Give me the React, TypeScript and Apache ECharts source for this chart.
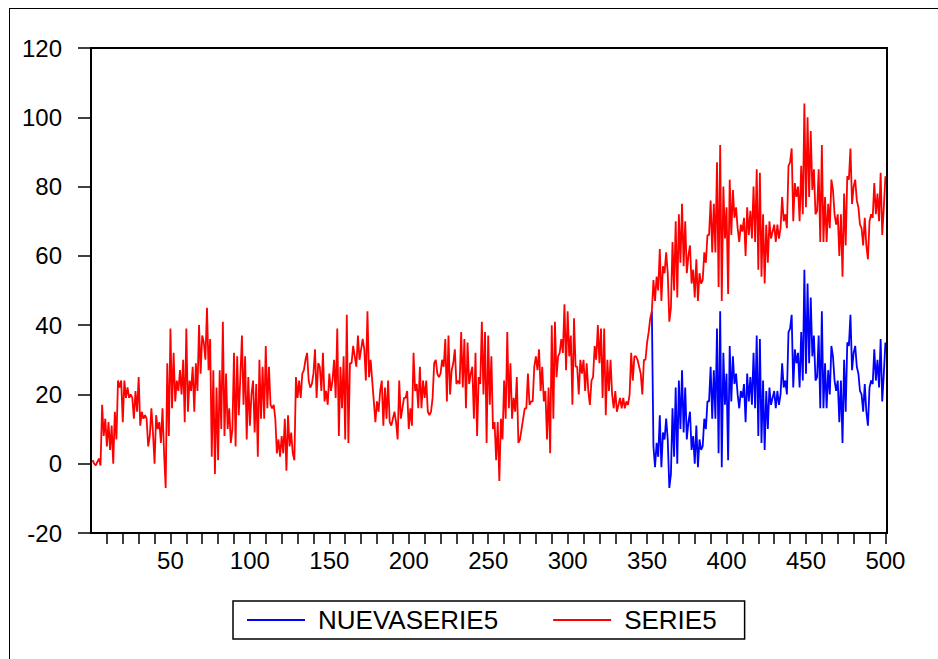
import React, { useEffect, useRef } from "react";
import * as echarts from "echarts";

// SERIE5: observations 1..500
const serie5: number[] = [
  // 1-60
  1, 0, -0.5, 0.5, 1.5, -0.5, 17, 8, 13, 5,
  12, 4, 11, 0, 15, 7, 24, 22, 24, 12,
  24, 19, 22, 19, 20, 19, 13, 21, 15, 25,
  11, 15, 13, 14, 13, 5, 8, 16, 9, 0,
  14, 10, 12, 6, 16, 3, -7, 29, 8, 39,
  16, 32, 18, 24, 21, 27, 20, 30, 12, 39,
  // 61-121
  15, 24, 21, 28, 15, 29, 21, 40, 26, 37,
  35, 30, 45, 27, 36, 2, 27, -3, 22, 1,
  27, 10, 41, 8, 26, 10, 16, 6, 10, 32,
  5, 31, 14, 25, 37, 17, 31, 7, 25, 11,
  20, 24, 9, 23, 2, 30, 13, 28, 13, 34,
  16, 28, 17, 16, 17, 13, 3, 7, 2, 8,
  3,
  // 122-180
  13, -2, 14, 5, 9, 3, 1, 25, 19, 24,
  19, 26, 27, 30, 32, 24, 22, 23, 26, 33,
  19, 29, 28, 21, 32, 18, 21, 17, 26, 21,
  24, 30, 19, 39, 8, 28, 16, 31, 7, 43,
  6, 29, 29, 34, 31, 28, 37, 30, 33, 36,
  33, 24, 44, 25, 30, 24, 18, 12, 18,
  // 181-244
  15, 21, 24, 11, 22, 13, 24, 12, 11, 13,
  15, 12, 7, 24, 13, 16, 19, 19, 21, 10,
  16, 11, 32, 21, 23, 16, 28, 16, 24, 19,
  24, 15, 14, 15, 19, 29, 30, 26, 25, 26,
  30, 28, 36, 18, 37, 20, 27, 29, 33, 23,
  24, 23, 38, 22, 36, 16, 35, 23, 26, 28,
  13, 32, 8, 25,
  // 245-305
  23, 41, 20, 38, 6, 37, 17, 31, 10, 12,
  1, 12, -5, 13, 7, 24, 13, 38, 16, 29,
  13, 19, 15, 25, 6, 7, 10, 13, 16, 16,
  26, 17, 18, 18, 28, 31, 27, 33, 21, 28,
  18, 21, 7, 22, 3, 40, 13, 41, 25, 31,
  32, 36, 32, 46, 27, 44, 31, 37, 17, 42,
  28,
  // 306-353
  28, 20, 30, 26, 30, 21, 29, 21, 17, 24,
  25, 34, 30, 40, 29, 39, 19, 39, 14, 30,
  21, 30, 20, 16, 21, 15, 17, 19, 16, 19,
  16, 18, 17, 20, 32, 24, 31, 31, 30, 28,
  26, 20, 30, 30, 35, 38, 42, 44,
  // 354-364
  53, 47, 54, 50, 62, 47, 57, 55, 61, 55, 41,
  // 365-434
  45, 64, 50, 70, 48, 72, 58, 75, 57, 70,
  55, 60, 63, 52, 56, 48, 59, 47, 55, 52,
  53, 61, 58, 66, 66, 76, 61, 75, 61, 87,
  51, 92, 47, 80, 65, 74, 49, 82, 66, 79,
  71, 74, 68, 64, 69, 67, 71, 60, 74, 66,
  73, 65, 80, 64, 85, 56, 84, 54, 72, 52,
  69, 58, 70, 65, 67, 69, 64, 69, 65, 68,
  // 435-500
  77, 70, 72, 68, 86, 87, 91, 70, 81, 77,
  80, 70, 86, 72, 104, 74, 100, 77, 96, 79,
  85, 72, 73, 85, 64, 92, 64, 77, 64, 75,
  68, 82, 79, 72, 69, 72, 60, 72, 54, 78,
  63, 83, 82, 91, 75, 80, 82, 76, 74, 69,
  68, 63, 71, 63, 59, 70, 72, 71, 81, 72,
  78, 70, 84, 66, 74, 83,
];

// NUEVASERIE5: observations 353..500
const nuevaSerie5Start = 353;
const nuevaSerie5: number[] = [
  44,
  5, -1, 6, 2, 14, -1, 9, 7, 13, 7, -7,
  -3, 16, 2, 22, 0, 24, 10, 27, 9, 22,
  7, 12, 15, 4, 8, 0, 11, -1, 7, 4,
  5, 13, 10, 18, 18, 28, 13, 27, 13, 39,
  3, 44, -1, 32, 17, 26, 1, 34, 18, 31,
  23, 26, 20, 16, 21, 19, 23, 12, 26, 18,
  25, 17, 32, 16, 37, 8, 36, 6, 24, 4,
  21, 10, 22, 17, 19, 21, 16, 21, 17, 20,
  29, 22, 24, 20, 38, 39, 43, 22, 33, 29,
  32, 22, 38, 24, 56, 26, 52, 29, 48, 31,
  37, 24, 25, 37, 16, 44, 16, 29, 16, 27,
  20, 34, 31, 24, 21, 24, 12, 24, 6, 30,
  15, 35, 34, 43, 27, 32, 34, 28, 26, 21,
  20, 15, 23, 15, 11, 22, 24, 23, 33, 24,
  30, 22, 36, 18, 26, 35,
];

const xTickValues = [
  10, 20, 30, 40, 50, 60, 70, 80, 90, 100,
  110, 120, 130, 140, 150, 160, 170, 180, 190, 200,
  210, 220, 230, 240, 250, 260, 270, 280, 290, 300,
  310, 320, 330, 340, 350, 360, 370, 380, 390, 400,
  410, 420, 430, 440, 450, 460, 470, 480, 490, 500,
];
const xLabelValues = [50, 100, 150, 200, 250, 300, 350, 400, 450, 500];
const yMin = -20;
const yMax = 120;
const yStep = 20;

const FONT = "'Liberation Sans', Arial, sans-serif";

export default function App() {
  const ref = useRef<HTMLDivElement>(null);

  useEffect(() => {
    if (!ref.current) return;
    const chart = echarts.init(ref.current, null, { renderer: "svg" });
    const serieData = serie5.map((v, i) => [i + 1, v]);
    const nuevaData = nuevaSerie5.map((v, i) => [nuevaSerie5Start + i, v]);

    chart.setOption({
      animation: false,
      backgroundColor: "#ffffff",
      grid: {
        left: 91,
        right: 51,
        top: 48,
        bottom: 126,
        show: true,
        borderColor: "#000",
        borderWidth: 2,
        containLabel: false,
      },
      xAxis: {
        type: "value",
        min: 0,
        max: 501,
        axisLine: { show: true, onZero: false, lineStyle: { color: "#000", width: 2 } },
        axisTick: {
          show: true,
          customValues: xTickValues,
          length: 11,
          lineStyle: { color: "#000", width: 1.5 },
        },
        axisLabel: {
          customValues: xLabelValues,
          margin: 15,
          fontSize: 24,
          color: "#000",
          fontFamily: FONT,
        },
        splitLine: { show: false },
      },
      yAxis: {
        type: "value",
        min: yMin,
        max: yMax,
        interval: yStep,
        axisLine: { show: true, onZero: false, lineStyle: { color: "#000", width: 2 } },
        axisTick: { show: true, length: 13, lineStyle: { color: "#000", width: 1.5 } },
        axisLabel: { margin: 29, fontSize: 24, color: "#000", fontFamily: FONT },
        splitLine: { show: false },
      },
      legend: {
        data: ["NUEVASERIE5", "SERIE5"],
        left: 233,
        top: 601,
        orient: "horizontal",
        padding: [6, 28, 6, 14],
        borderColor: "#000",
        borderWidth: 1.5,
        icon: "rect",
        itemWidth: 58,
        itemHeight: 2,
        itemGap: 55,
        textStyle: { fontSize: 26, color: "#000", fontFamily: FONT, padding: [0, 0, 0, 8] },
      },
      graphic: [
        { type: "line", shape: { x1: 9, y1: 8.5, x2: 938, y2: 8.5 }, style: { stroke: "#000", lineWidth: 1 } },
        { type: "line", shape: { x1: 9.5, y1: 8, x2: 9.5, y2: 659 }, style: { stroke: "#000", lineWidth: 1 } },
      ],
      series: [
        {
          name: "NUEVASERIE5",
          type: "line",
          data: nuevaData,
          showSymbol: false,
          symbol: "none",
          color: "#0000ff",
          lineStyle: { color: "#0000ff", width: 1.8 },
        },
        {
          name: "SERIE5",
          type: "line",
          data: serieData,
          showSymbol: false,
          symbol: "none",
          color: "#ff0000",
          lineStyle: { color: "#ff0000", width: 1.8 },
        },
      ],
    });

    return () => chart.dispose();
  }, []);

  return (
    <div
      ref={ref}
      style={{ position: "fixed", left: 0, top: 0, width: 938, height: 659, background: "#fff" }}
    />
  );
}
